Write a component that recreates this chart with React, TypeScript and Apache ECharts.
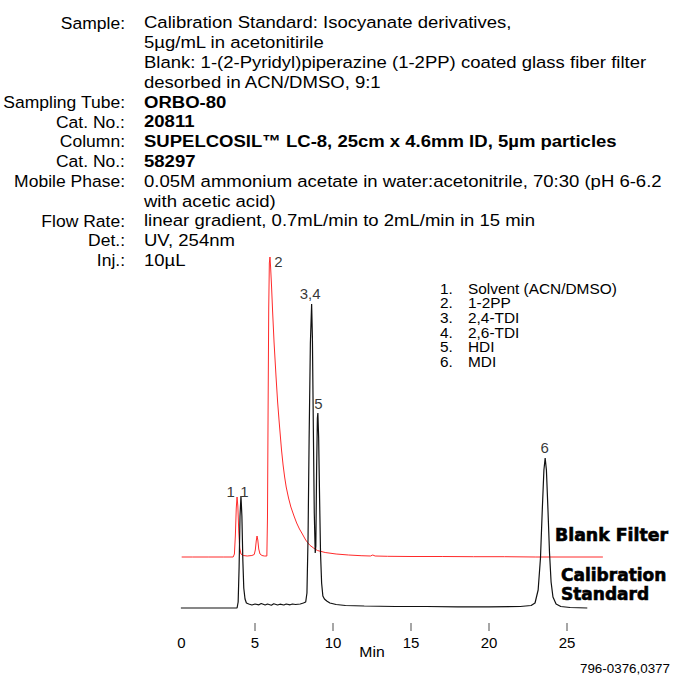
import React, { useEffect, useRef } from "react";
import * as echarts from "echarts";

// ---------- text content ----------
const headerLabels = [
  "Sample:", "", "", "", "Sampling Tube:", "Cat. No.:", "Column:", "Cat. No.:",
  "Mobile Phase:", "", "Flow Rate:", "Det.:", "Inj.:",
];
const headerValues = [
  "Calibration Standard: Isocyanate derivatives,",
  "5µg/mL in acetonitirile",
  "Blank: 1-(2-Pyridyl)piperazine (1-2PP) coated glass fiber filter",
  "desorbed in ACN/DMSO, 9:1",
  "ORBO-80",
  "20811",
  "SUPELCOSIL™ LC-8, 25cm x 4.6mm ID, 5µm particles",
  "58297",
  "0.05M ammonium acetate in water:acetonitrile, 70:30 (pH 6-6.2",
  "with acetic acid)",
  "linear gradient, 0.7mL/min to 2mL/min in 15 min",
  "UV, 254nm",
  "10µL",
];
const headerBold = [false, false, false, false, true, true, true, true, false, false, false, false, false];

const legendNumbers = ["1.", "2.", "3.", "4.", "5.", "6."];
const legendNames = ["Solvent (ACN/DMSO)", "1-2PP", "2,4-TDI", "2,6-TDI", "HDI", "MDI"];

const traceNames = ["Blank Filter", "Calibration Standard"];
const axisName = "Min";
const figureCode = "796-0376,0377";

const xTickValues = [5, 10, 15, 20, 25];
const xLabelValues = [0, 5, 10, 15, 20, 25];

// ---------- traces: [time (min), detector response] ----------
const calibrationStandard: [number, number][] = [
  [0.25, 0], [1, 0], [2, 0], [3, 0], [3.85, 0], [3.92, 6], [3.98, 40], [4.04, 92], [4.1, 112],
  [4.16, 92], [4.22, 48], [4.28, 20], [4.36, 9], [4.45, 5], [4.6, 4], [4.8, 3], [5.0, 4],
  [5.25, 3.2], [5.4, 4.5], [5.65, 3], [5.8, 4], [6.05, 2.8], [6.2, 4.2], [6.45, 3], [6.6, 3.8],
  [6.85, 3], [7.0, 4], [7.25, 3.2], [7.4, 4], [7.6, 3.5], [7.9, 4], [8.1, 5], [8.25, 6], [8.33, 15],
  [8.4, 70], [8.47, 170], [8.55, 265], [8.63, 304], [8.68, 270], [8.74, 180], [8.8, 95],
  [8.86, 55], [8.9, 62], [8.95, 140], [9.0, 190], [9.03, 195], [9.08, 170], [9.14, 110],
  [9.2, 55], [9.27, 25], [9.35, 12], [9.45, 9], [9.6, 7], [9.8, 5], [10.2, 3.5], [10.8, 2.5],
  [12, 2], [14, 1.5], [16, 1.5], [18, 1.2], [20, 1.2], [22, 1.5], [22.7, 2.5], [22.95, 5],
  [23.15, 18], [23.3, 50], [23.42, 100], [23.52, 138], [23.6, 150], [23.68, 138], [23.78, 98],
  [23.88, 55], [23.98, 26], [24.1, 11], [24.3, 4], [24.6, 1.5], [25.2, 0.5], [26.3, 0],
];

const blankFilter: [number, number][] = [
  [0.3, 51], [1, 51], [2, 51], [3, 51], [3.6, 51], [3.68, 54], [3.74, 72], [3.8, 100],
  [3.85, 111], [3.9, 102], [3.96, 76], [4.02, 60], [4.1, 54], [4.25, 52.5], [4.5, 52],
  [4.8, 52.5], [4.95, 53.5], [5.02, 58], [5.08, 67], [5.13, 72], [5.18, 68], [5.24, 59],
  [5.32, 54], [5.45, 52.5], [5.6, 52], [5.76, 52], [5.8, 90], [5.84, 200], [5.88, 300],
  [5.92, 345], [5.96, 351], [6.0, 341], [6.06, 322], [6.13, 296], [6.22, 266], [6.35, 231],
  [6.45, 206], [6.55, 186], [6.7, 158], [6.8, 143], [6.9, 131], [7.0, 121], [7.15, 110],
  [7.3, 101], [7.5, 92], [7.67, 85], [7.85, 79], [8.0, 75], [8.25, 68], [8.5, 63], [8.75, 60],
  [9.0, 57.5], [9.5, 55.5], [10.2, 54], [11, 53], [11.8, 52.3], [12.4, 52],
  [12.55, 53], [12.7, 52], [13.5, 51.7], [15, 51.5], [17, 51.5], [19, 51.3], [21, 51.3],
  [23, 51], [25, 51], [27.3, 51],
];

// peak annotations: label, apex time, apex response
const peakNames = ["1", "1", "2", "3,4", "5", "6"];
const peakApex: [number, number][] = [
  [3.85, 111], [4.1, 112], [5.96, 351], [8.63, 304], [9.03, 195], [23.6, 150],
];
const peakLabelOffsets: [number, number][] = [[-6, -5], [4, -4], [9, 5], [-1, -10], [1, -9], [0, -10]];

const SANS = '"Liberation Sans", Arial, Helvetica, sans-serif';
const Y_MIN = -23;
const TICK_LEVEL = -19; // response level at the centre of the tick marks, below both traces

export default function App() {
  const ref = useRef<HTMLDivElement>(null);

  useEffect(() => {
    if (!ref.current) return;
    const chart = echarts.init(ref.current, undefined, { renderer: "svg" });

    const graphics: any[] = [];

    headerLabels.forEach((lab, i) => {
      const y = 22.7 + 19.8 * i;
      if (lab) {
        graphics.push({
          type: "text", x: 125, y, scaleX: 1.03,
          style: { text: lab, textAlign: "right", align: "right", textVerticalAlign: "middle", verticalAlign: "middle", fontSize: 17, fontFamily: SANS, fill: "#000" },
        });
      }
      graphics.push({
        type: "text", x: 144, y, scaleX: 1.09,
        style: {
          text: headerValues[i], textAlign: "left", align: "left", textVerticalAlign: "middle", verticalAlign: "middle",
          fontSize: 17, fontFamily: SANS, fontWeight: headerBold[i] ? "bold" : "normal", fill: "#000",
        },
      });
    });

    legendNames.forEach((nm, i) => {
      const y = 289 + 14.6 * i;
      graphics.push({
        type: "text", x: 440, y, scaleX: 1.1,
        style: { text: legendNumbers[i], textAlign: "left", align: "left", textVerticalAlign: "middle", verticalAlign: "middle", fontSize: 14, fontFamily: SANS, fill: "#000" },
      });
      graphics.push({
        type: "text", x: 468, y, scaleX: 1.1,
        style: { text: nm, textAlign: "left", align: "left", textVerticalAlign: "middle", verticalAlign: "middle", fontSize: 14, fontFamily: SANS, fill: "#000" },
      });
    });

    const heavy = {
      fontSize: 17, fontFamily: '"DejaVu Sans", sans-serif', fontWeight: "bold", fill: "#000",
      stroke: "#000", lineWidth: 0.6,
      textAlign: "left", align: "left", textVerticalAlign: "middle", verticalAlign: "middle",
    };
    graphics.push({ type: "text", x: 555, y: 535, scaleX: 1.02, style: { ...heavy, text: traceNames[0] } });
    const calWords = traceNames[1].split(" ");
    graphics.push({ type: "text", x: 561, y: 575, scaleX: 1.0, style: { ...heavy, text: calWords[0] } });
    graphics.push({ type: "text", x: 561, y: 594, scaleX: 1.0, style: { ...heavy, text: calWords[1] } });

    graphics.push({
      type: "text", x: 372, y: 652, scaleX: 1.05,
      style: { text: axisName, textAlign: "center", align: "center", textVerticalAlign: "middle", verticalAlign: "middle", fontSize: 15, fontFamily: SANS, fill: "#000" },
    });
    graphics.push({
      type: "text", x: 670, y: 669, scaleX: 1.03,
      style: { text: figureCode, textAlign: "right", align: "right", textVerticalAlign: "middle", verticalAlign: "middle", fontSize: 13, fontFamily: SANS, fill: "#000" },
    });

    chart.setOption({
      animation: false,
      backgroundColor: "#fff",
      grid: { left: 177, right: 34, top: 250, bottom: 51, containLabel: false },
      xAxis: {
        type: "value", min: 0, max: 30,
        axisLine: { show: false },
        splitLine: { show: false },
        axisTick: { show: false },
        axisLabel: {
          show: true, customValues: xLabelValues, margin: 4, fontSize: 15, fontFamily: SANS, color: "#000",
          formatter: (v: number) => (v === 0 ? "{z|0}" : String(v)),
          rich: { z: { padding: [0, 0, 0, 9], fontSize: 15, fontFamily: SANS, color: "#000" } },
        },
      },
      yAxis: { type: "value", min: Y_MIN, max: 358, show: false, splitLine: { show: false } },
      series: [
        {
          name: traceNames[0], type: "line", data: blankFilter, showSymbol: false, symbol: "none",
          lineStyle: { color: "#ff2a2a", width: 1 }, z: 2, silent: true,
        },
        {
          name: traceNames[1], type: "line", data: calibrationStandard, showSymbol: false, symbol: "none",
          lineStyle: { color: "#111", width: 1.2 }, z: 3, silent: true,
        },
        {
          // x-axis tick marks, placed through the x scale
          type: "scatter", symbol: "rect", symbolSize: [1, 8], silent: true, z: 1,
          itemStyle: { color: "#222" },
          data: xTickValues.map((v) => [v, TICK_LEVEL]),
        },
        {
          type: "scatter", symbol: "circle", symbolSize: 1, silent: true, z: 4,
          itemStyle: { color: "rgba(0,0,0,0)" },
          data: peakApex.map((p, i) => ({
            value: p,
            label: {
              show: true, formatter: peakNames[i], position: peakLabelOffsets[i],
              align: "center", verticalAlign: "middle", fontSize: 15, fontFamily: SANS, color: "#000",
            },
          })),
        },
      ],
      graphic: graphics,
    });

    return () => chart.dispose();
  }, []);

  return (
    <div
      ref={ref}
      style={{ position: "fixed", left: 0, top: 0, width: 679, height: 682, background: "#fff" }}
    />
  );
}
